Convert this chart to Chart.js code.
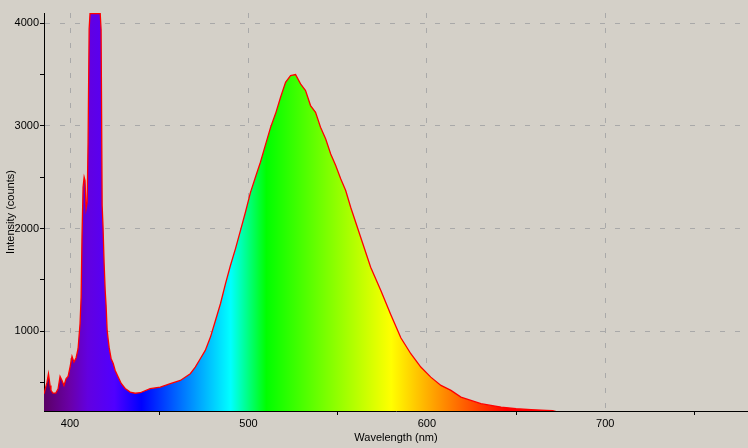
<!DOCTYPE html>
<html lang="en">
<head>
<meta charset="UTF-8">
<title>Spectrum</title>
<script src="https://cdn.jsdelivr.net/npm/chart.js"></script>
<style>
  body { margin: 0; background: #d4d0c8; }
  canvas { display: block; }
</style>
</head>
<body>
<canvas id="spec" width="748" height="448"></canvas>
<script>
// wavelength (nm) and intensity (counts)
const wavelength = [385.4, 387.1, 387.9, 388.8, 389.3, 390.4, 392.0, 393.3, 394.4, 395.5, 396.6, 397.8, 398.9,
  400.0, 401.1, 402.2, 403.4, 404.5, 405.6, 406.2, 406.7, 407.3, 407.9, 408.4, 409.0, 409.6, 410.1, 410.7,
  411.2, 416.9, 417.4, 418.0, 418.5, 419.1, 419.7, 420.2, 420.8, 421.3, 421.9, 422.5, 423.0, 424.2, 425.3,
  427.0, 428.7, 430.9, 433.7, 436.5, 439.3, 444.9, 450.6, 456.2, 461.8, 467.4, 470.2, 473.0, 475.8, 478.7,
  481.5, 484.3, 487.1, 489.9, 492.7, 495.5, 498.3, 501.1, 503.9, 506.7, 509.6, 512.4, 515.2, 518.0, 520.8,
  523.6, 526.4, 529.2, 532.0, 534.8, 537.6, 540.4, 543.3, 546.1, 548.9, 551.7, 554.5, 557.3, 562.9, 568.5,
  574.2, 579.8, 585.4, 591.0, 596.6, 602.2, 607.9, 613.5, 619.1, 624.7, 630.3, 635.9, 641.6, 650.0, 658.4,
  666.9, 670.5, 676.0, 700.0, 780.0];
const counts = [390, 503, 585, 471, 423, 397, 397, 439, 559, 520, 471, 537, 559,
  650, 754, 698, 741, 829, 1072, 1331, 1922, 2402, 2500, 2467, 2195, 2256, 2840, 3947,
  4095, 4095, 3940, 2224, 2010, 1659, 1396, 1250, 1007, 929, 844, 783, 734, 685, 617,
  552, 490, 441, 406, 395, 400, 439, 455, 488, 520, 585, 650, 731, 812, 942,
  1104, 1267, 1461, 1640, 1802, 1980, 2159, 2350, 2500, 2646, 2820, 2986, 3120, 3279, 3425,
  3490, 3500, 3409, 3344, 3198, 3132, 2986, 2873, 2727, 2613, 2484, 2370, 2207, 1915, 1623,
  1396, 1160, 936, 780, 650, 552, 471, 423, 357, 325, 293, 276, 260, 244, 235,
  229, 225, 200, 195, 195];

// tick positions: every 50 nm / 500 counts, labels only on the round ones
const xTicks = [400, 450, 500, 550, 600, 650, 700, 750];
const yTicks = [500, 1000, 1500, 2000, 2500, 3000, 3500, 4000];

// colour of light along the wavelength axis
const spectrumStops = [
  [385, '#5a0063'], [400, '#6a00a8'], [410, '#6200e0'], [425, '#5000ff'], [440, '#0000ff'],
  [490, '#00ffff'], [510, '#00ff00'], [580, '#ffff00'], [645, '#ff0000'], [780, '#ff0000']
];

const font = { family: 'Liberation Sans', size: 11 };

function spectrumFill(context) {
  const chart = context.chart;
  const x = chart.scales.x;
  if (!chart.chartArea || !x) return '#6000e0';
  const x0 = x.getPixelForValue(spectrumStops[0][0]);
  const x1 = x.getPixelForValue(spectrumStops[spectrumStops.length - 1][0]);
  const g = chart.ctx.createLinearGradient(x0, 0, x1, 0);
  spectrumStops.forEach(s => {
    g.addColorStop((x.getPixelForValue(s[0]) - x0) / (x1 - x0), s[1]);
  });
  return g;
}

new Chart(document.getElementById('spec'), {
  type: 'line',
  data: {
    datasets: [{
      data: wavelength.map((w, i) => ({ x: w, y: counts[i] })),
      borderColor: '#ff0000',
      borderWidth: 1.3,
      backgroundColor: spectrumFill,
      fill: 'start',
      pointRadius: 0,
      tension: 0,
      clip: 0
    }]
  },
  options: {
    responsive: false,
    animation: false,
    devicePixelRatio: 1,
    layout: { padding: { top: 13, right: 0, left: 0, bottom: 0 } },
    plugins: { legend: { display: false }, tooltip: { enabled: false } },
    scales: {
      x: {
        type: 'linear',
        min: 385.4,
        max: 780,
        afterFit: s => { s.height = 37; },
        afterBuildTicks: s => { s.ticks = xTicks.map(v => ({ value: v })); },
        ticks: {
          color: '#000',
          font: font,
          padding: 2,
          maxRotation: 0,
          autoSkip: false,
          callback: v => (v % 100 === 0 ? v : '')
        },
        grid: {
          color: c => (c.tick && c.tick.value % 100 === 0 ? '#a9a9a9' : 'rgba(0,0,0,0)'),
          tickColor: c => (c.tick && c.tick.value % 100 === 0 ? 'rgba(0,0,0,0)' : '#000'),
          tickLength: 4,
          lineWidth: 1
        },
        border: { color: '#000', width: 1, dash: [5, 10] },
        title: { display: true, text: 'Wavelength (nm)', color: '#000', font: font, padding: { top: 0, bottom: 3 } }
      },
      y: {
        min: 222,
        max: 4100,
        afterFit: s => { s.width = 44; },
        afterBuildTicks: s => { s.ticks = yTicks.map(v => ({ value: v })); },
        ticks: {
          color: '#000',
          font: font,
          padding: 1,
          autoSkip: false,
          callback: v => (v % 1000 === 0 ? v : '')
        },
        grid: {
          color: c => (c.tick && c.tick.value % 1000 === 0 ? '#a9a9a9' : 'rgba(0,0,0,0)'),
          tickColor: '#000',
          tickLength: 4,
          lineWidth: 1
        },
        border: { color: '#000', width: 1, dash: [5, 10] },
        title: { display: true, text: 'Intensity (counts)', color: '#000', font: font, padding: { top: 4, bottom: 0 } }
      }
    }
  }
});
</script>
</body>
</html>
